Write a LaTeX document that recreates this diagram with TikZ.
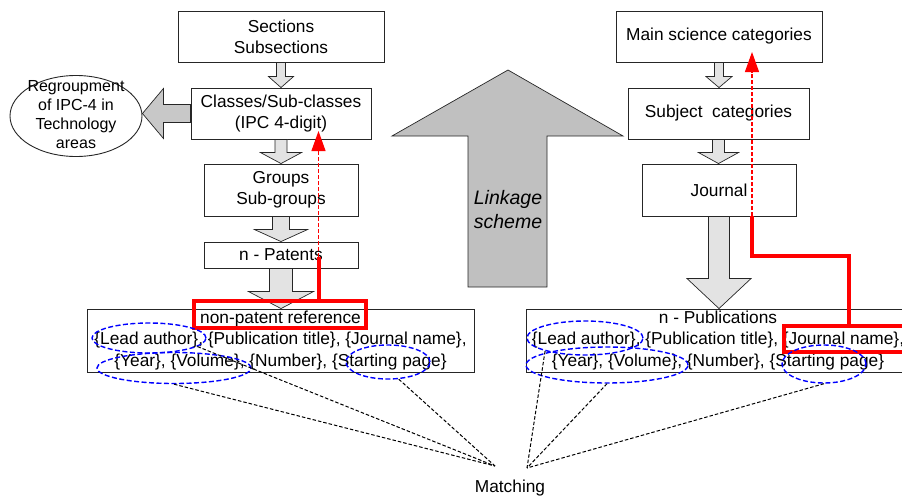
\documentclass[tikz,border=0pt]{standalone}
\usepackage{fontspec}
\setmainfont{Liberation Sans}
\usetikzlibrary{shapes.geometric,arrows.meta,calc}
\definecolor{arrowfill}{HTML}{E3E3E3}
\definecolor{sidefill}{HTML}{C8C8C8}
\definecolor{bigfill}{HTML}{C0C0C0}
\newcommand\blkdown[6]{%
  \path[draw=black!85, line width=0.7pt, fill=#6] let \p1=(#1.south), \p2=(#2.north) in
   (\x1-#3pt,\y1) -- (\x1-#3pt,\y2+#5pt) -- (\x1-#4pt,\y2+#5pt) -- (\x1,\y2)
   -- (\x1+#4pt,\y2+#5pt) -- (\x1+#3pt,\y2+#5pt) -- (\x1+#3pt,\y1) -- cycle;}
\begin{document}
\begin{tikzpicture}[x=1pt,y=-1pt,
  box/.style={draw=black!85, line width=0.9pt, fill=white, inner sep=0pt, align=center,
    font=\fontsize{17.3}{21}\selectfont},
  pubbox/.style={box, font=\fontsize{17.3}{22}\selectfont},
  redbox/.style={draw=red, line width=4pt, inner sep=0pt},
  bell/.style={draw=blue, ellipse, line width=1.4pt, dash pattern=on 5pt off 2.5pt, inner sep=0pt},
  matchline/.style={draw=black, line width=1pt, dash pattern=on 3.5pt off 2pt},
  redthick/.style={draw=red, line width=4pt},
  reddash/.style={draw=red, line width=1.2pt, dash pattern=on 4pt off 2pt,
    -{Triangle[width=14pt,length=20pt]}},
]
\useasboundingbox (0,0) rectangle (902,498);
\clip (0,0) rectangle (902,498);

% ---- left column
\node[box, minimum width=206, minimum height=51] (sec) at (281,36.5) {Sections\\Subsections};
\node[box, minimum width=180, minimum height=51] (cls) at (281,113.5) {Classes/Sub-classes\\(IPC 4-digit)};
\node[box, minimum width=154, minimum height=52] (grp) at (281,190) {Groups\\Sub-groups};
\node[box, minimum width=154, minimum height=26] (pat) at (281,255) {n - Patents};
\node[pubbox, minimum width=387, minimum height=63] (lpub) at (280.5,340.5)
  {\raisebox{-1.5pt}{non-patent reference}\\\{Lead author\}, \{Publication title\}, \{Journal name\},\\\{Year\}, \{Volume\}, \{Number\}, \{Starting page\}};

\node[draw=black!85, line width=0.9pt, ellipse, minimum width=132, minimum height=81, inner sep=0pt] (reg) at (76,116) {};
\node[align=center, font=\fontsize{16}{19}\selectfont, inner sep=0pt] (regtxt) at (76,114.5)
  {Regroupment\\of IPC-4 in\\Technology\\areas};

\blkdown{sec}{cls}{4.5}{12.5}{11}{arrowfill}
\blkdown{cls}{grp}{6}{20.5}{11}{arrowfill}
\blkdown{grp}{pat}{8.5}{26.5}{12}{arrowfill}
\blkdown{pat}{lpub}{11.5}{32.5}{17}{arrowfill}

\path[draw=black!85, line width=0.7pt, fill=sidefill] let \p1=(cls.west), \p2=(reg.east) in
  (\x1,\y1+9pt) -- (\x2+21pt,\y1+9pt) -- (\x2+21pt,\y1+25pt) -- (\x2,\y1)
  -- (\x2+21pt,\y1-25pt) -- (\x2+21pt,\y1-9pt) -- (\x1,\y1-9pt) -- cycle;

% ---- right column
\node[box, minimum width=206, minimum height=51] (msc) at (719,36.5) {Main science categories};
\node[box, minimum width=181, minimum height=51] (subj) at (718.5,113.5) {Subject~ categories};
\node[box, minimum width=154, minimum height=52] (jour) at (719,190) {Journal};
\node[pubbox, minimum width=384, minimum height=63] (rpub) at (718,340.5)
  {\raisebox{-1.5pt}{n - Publications}\\\{Lead author\}, \{Publication title\}, \{Journal name\},\\\{Year\}, \{Volume\}, \{Number\}, \{Starting page\}};

\blkdown{msc}{subj}{4.5}{13}{11}{arrowfill}
\blkdown{subj}{jour}{6}{20}{11}{arrowfill}
\blkdown{jour}{rpub}{10.5}{32}{30}{arrowfill}

% ---- linkage arrow
\path[draw=black!85, line width=0.7pt, fill=bigfill]
  (468,287) -- (468,136) -- (392,136) -- (508,70) -- (623,136) -- (547,136) -- (547,287) -- cycle;
\node[align=center, font=\itshape\fontsize{19.5}{24}\selectfont, inner sep=0pt] (link) at (508,210) {Linkage\\scheme};

% ---- red boxes and links
\node[redbox, minimum width=172, minimum height=27] (npr) at (280,314.5) {};
\node[redbox, minimum width=140, minimum height=26] (jn) at (854,339) {};

\coordinate (lbend) at (318.5,257);
\coordinate (ltip) at (318.5,131);
\draw[redthick] (npr.north -| lbend) -- (lbend);
\draw[reddash] (lbend) -- (ltip);

\coordinate (rtop) at (752,216);
\coordinate (rb1) at (752,256);
\coordinate (rb2) at (849,256);
\coordinate (rtip) at (752,52);
\draw[redthick] (rtop) -- (rb1) -- (rb2) -- (rb2 |- jn.north);
\draw[reddash] (rtop) -- (rtip);

% ---- blue ellipses
\node[bell, minimum width=114, minimum height=30] (la1) at (149,338) {};
\node[bell, minimum width=154, minimum height=31] (yv1) at (174,368) {};
\node[bell, minimum width=84, minimum height=34] (sp1) at (388,362) {};
\node[bell, minimum width=116, minimum height=34] (la2) at (585,338) {};
\node[bell, minimum width=162, minimum height=36] (yv2) at (607,365) {};
\node[bell, minimum width=84, minimum height=38] (sp2) at (824,364) {};

% ---- matching
\coordinate (mL) at (495,466);
\coordinate (mR) at (527,468);
\node[font=\fontsize{17.3}{21}\selectfont, inner sep=0pt] (match) at (510,488) {Matching};
\draw[matchline] (yv1.south) -- (mL);
\draw[matchline] (la1.-10) -- (mL);
\draw[matchline] (sp1.-58) -- (mL);
\draw[matchline] (la2.198) -- (mR);
\draw[matchline] (yv2.south) -- (mR);
\draw[matchline] (sp2.south) -- (mR);
\end{tikzpicture}
\end{document}
